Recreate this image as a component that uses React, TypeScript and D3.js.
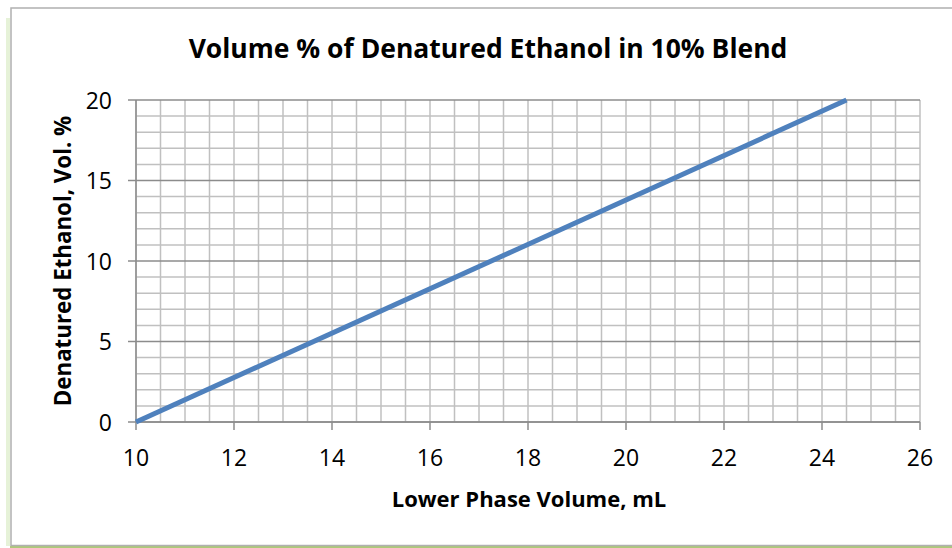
import React from "react";
import * as d3 from "d3";

const lowerPhaseVolume = [10, 24.5];
const ethanolPct = [0, 20];
const xTicks = [10, 12, 14, 16, 18, 20, 22, 24, 26];
const yTicks = [0, 5, 10, 15, 20];
const titleText = "Volume % of Denatured Ethanol in 10% Blend";
const xLabel = "Lower Phase Volume, mL";
const yLabel = "Denatured Ethanol, Vol. %";

const W = 952, H = 548;
const m = { left: 136, right: 920, top: 100, bottom: 422 };
const FONT = "'Open Sans', sans-serif";

export default function App() {
  const x = d3.scaleLinear().domain([10, 26]).range([m.left, m.right]);
  const y = d3.scaleLinear().domain([0, 20]).range([m.bottom, m.top]);
  const minorX = d3.range(10, 26.001, 0.5);
  const minorY = d3.range(0, 20.001, 1);
  const pts = lowerPhaseVolume.map((v, i) => [v, ethanolPct[i]] as [number, number]);
  const line = d3.line<[number, number]>().x(d => x(d[0])).y(d => y(d[1]));
  return (
    <svg width={W} height={H} style={{ position: "absolute", left: 0, top: 0 }}>
      <rect x={0} y={0} width={W} height={H} fill="#fff" />
      <line x1={8} x2={8} y1={18} y2={546} stroke="#e6f2d8" strokeWidth={4} />
      <line x1={10} x2={W} y1={547} y2={547} stroke="#9bbb59" strokeWidth={2} opacity={0.8} />
      <rect x={11} y={8} width={W + 5} height={537.5} fill="#fff" stroke="#b0b0b0" strokeWidth={1.5} />
      {minorX.map(v => (
        <line key={"mx" + v} x1={x(v)} x2={x(v)} y1={m.top} y2={m.bottom} stroke="#c0c0c0" strokeWidth={1.5} />
      ))}
      {minorY.map(v => (
        <line key={"my" + v} x1={m.left} x2={m.right} y1={y(v)} y2={y(v)}
          stroke={v % 5 === 0 ? "#8c8c8c" : "#c0c0c0"} strokeWidth={1.5} />
      ))}
      <line x1={m.left} x2={m.left} y1={m.top} y2={m.bottom} stroke="#8c8c8c" strokeWidth={1.5} />
      <line x1={m.left} x2={m.right} y1={m.bottom} y2={m.bottom} stroke="#8c8c8c" strokeWidth={1.5} />
      {xTicks.map(v => (
        <g key={"xt" + v}>
          <line x1={x(v)} x2={x(v)} y1={m.bottom} y2={m.bottom + 8} stroke="#8c8c8c" strokeWidth={1.5} />
          <text x={x(v)} y={466} textAnchor="middle" fontFamily={FONT} fontSize={23} fill="#000">{v}</text>
        </g>
      ))}
      {yTicks.map(v => (
        <g key={"yt" + v}>
          <line x1={m.left - 8} x2={m.left} y1={y(v)} y2={y(v)} stroke="#8c8c8c" strokeWidth={1.5} />
          <text x={112} y={y(v) + 8.5} textAnchor="end" fontFamily={FONT} fontSize={23} fill="#000">{v}</text>
        </g>
      ))}
      <path d={line(pts) || ""} fill="none" stroke="#4f81bd" strokeWidth={5} />
      <text x={488} y={58} textAnchor="middle" fontFamily={FONT} fontWeight="bold" fontSize={26.5} fill="#000">{titleText}</text>
      <text x={529} y={507} textAnchor="middle" fontFamily={FONT} fontWeight="bold" fontSize={22} fill="#000">{xLabel}</text>
      <text transform={`translate(71,261) rotate(-90)`} textAnchor="middle" fontFamily={FONT} fontWeight="bold" fontSize={22.3} fill="#000">{yLabel}</text>
    </svg>
  );
}
